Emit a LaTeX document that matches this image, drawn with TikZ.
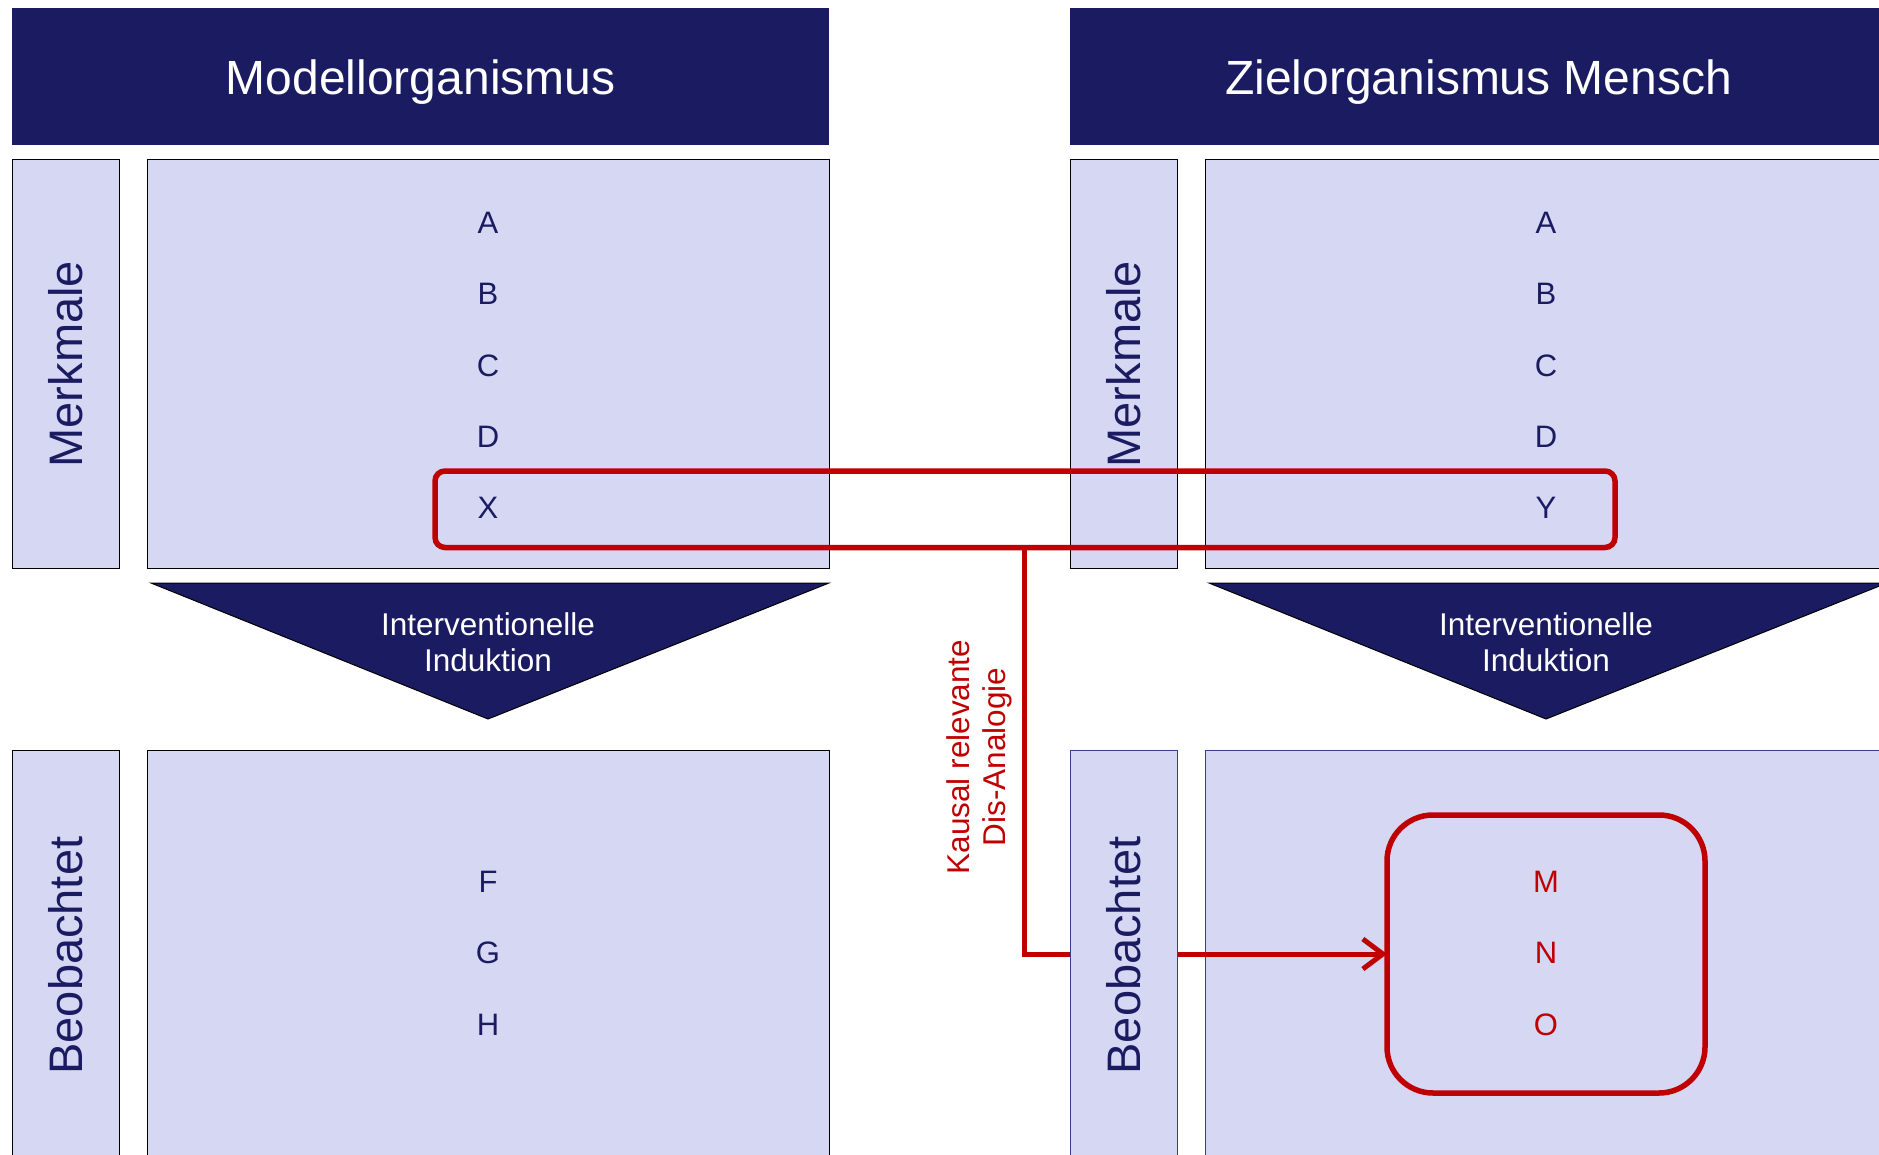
\documentclass[tikz,border=0pt]{standalone}
\usepackage{fontspec}
\setmainfont{Liberation Sans}
\usetikzlibrary{arrows.meta}
\definecolor{navy}{RGB}{27,27,98}
\definecolor{pale}{RGB}{214,215,243}
\definecolor{alarm}{RGB}{192,0,0}
\definecolor{rim}{RGB}{60,60,140}
\tikzset{
  hdr/.style={fill=navy, draw=none, text=white, font=\fontsize{48}{58}\selectfont,
    text depth=0pt, minimum width=817pt, minimum height=137pt, anchor=north west, inner sep=0pt},
  sidebox/.style={fill=pale, draw=black, line width=1.3pt, minimum width=107pt,
    anchor=north west, inner sep=0pt},
  mainbox/.style={fill=pale, draw=black, line width=1.3pt, minimum width=682pt,
    anchor=north west, inner sep=0pt},
  sidelabel/.style={text=navy, font=\fontsize{47}{56}\selectfont, rotate=90, inner sep=0pt},
  item/.style={text=navy, font=\fontsize{31}{37}\selectfont, inner sep=0pt},
  reditem/.style={item, text=alarm},
  wedge/.style={fill=navy, draw=black, line width=1pt},
  wedgetext/.style={text=white, font=\fontsize{31.5}{36}\selectfont, align=center, inner sep=0pt},
  redline/.style={draw=alarm, line width=5pt},
  redframe/.style={draw=alarm, line width=5.5pt, outer sep=0pt, anchor=north west},
}
\begin{document}
\begin{tikzpicture}[x=1pt,y=-1pt]
\clip (0,0) rectangle (1879,1155);
\fill[white] (0,0) rectangle (1879,1155);

% ---------- model organism (left) ----------
\node[hdr] (hL) at (12,8) {Modellorganismus};
\node[sidebox, minimum height=409pt] (mkL) at (12,159) {};
\node[sidelabel] (mkLt) at (mkL.center) {Merkmale};
\node[mainbox, minimum height=409pt] (topL) at (147,159) {};
\foreach \t [count=\i from 0] in {A,B,C,D,X}
  \node[item] (L\t) at (488,{223+71.3*\i}) {\t};
\path[wedge] (151,583) -- (829,583) -- (488,719) -- cycle;
\node[wedgetext] (wL) at (488,642) {Interventionelle\\Induktion};
\node[sidebox, minimum height=410pt] (obL) at (12,750) {};
\node[sidelabel] (obLt) at (obL.center) {Beobachtet};
\node[mainbox, minimum height=410pt] (botL) at (147,750) {};
\foreach \t [count=\i from 0] in {F,G,H}
  \node[item] (L\t) at (488,{882+71.3*\i}) {\t};

% ---------- target organism human (right) ----------
\node[hdr] (hR) at (1070,8) {Zielorganismus Mensch};
\node[sidebox, minimum height=409pt] (mkR) at (1070,159) {};
\node[sidelabel] (mkRt) at (mkR.center) {Merkmale};
\node[mainbox, minimum height=409pt] (topR) at (1205,159) {};
\foreach \t [count=\i from 0] in {A,B,C,D,Y}
  \node[item] (R\t) at (1546,{223+71.3*\i}) {\t};
\path[wedge] (1209,583) -- (1887,583) -- (1546,719) -- cycle;
\node[wedgetext] (wR) at (1546,642) {Interventionelle\\Induktion};
\node[mainbox, draw=rim, line width=1pt, minimum height=410pt] (botR) at (1205,750) {};
\node[sidebox, draw=rim, line width=1pt, minimum height=410pt] (obR) at (1070,750) {};
\node[sidelabel] (obRt) at (obR.center) {Beobachtet};

% ---------- causally relevant dis-analogy ----------
\node[redframe, rounded corners=46pt, minimum width=318pt,
  minimum height=278pt] (mno) at (1387,815) {};
\foreach \t [count=\i from 0] in {M,N,O}
  \node[reditem] (R\t) at (1546,{882+71.3*\i}) {\t};
\node[redframe, rounded corners=10pt, minimum width=1180pt,
  minimum height=76.5pt] (xy) at (435,471) {};
\coordinate (bend) at (1024.5,954);
\draw[redline] (xy.south -| bend) -- (bend) -- (obR.west |- bend);
\draw[redline, -{Straight Barb[length=20pt,width=30pt,line width=5pt]}]
  (obR.east |- bend) -- (mno.west |- bend);
\node[text=alarm, font=\fontsize{31.5}{36}\selectfont, rotate=90, align=center,
  inner sep=0pt] (kausal) at (979,757) {Kausal relevante\\Dis-Analogie};
\end{tikzpicture}
\end{document}
